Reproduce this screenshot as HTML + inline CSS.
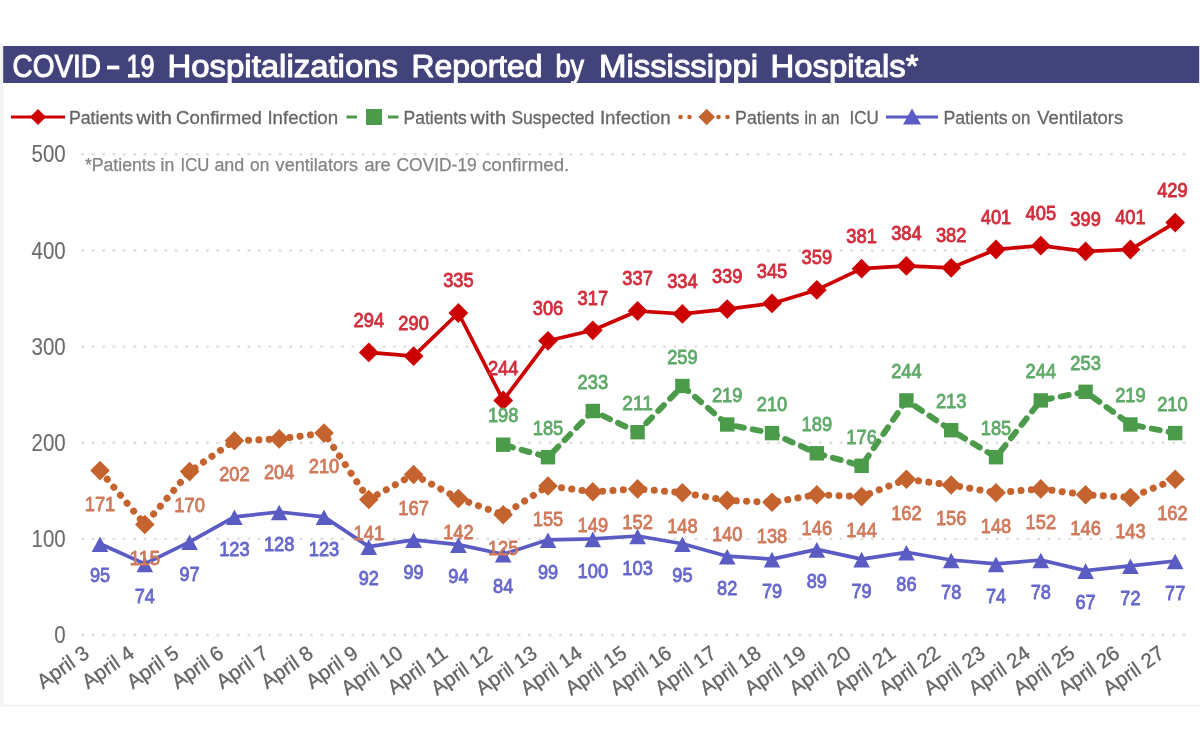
<!DOCTYPE html>
<html><head><meta charset="utf-8"><title>COVID-19 Hospitalizations</title>
<style>
html,body{margin:0;padding:0;background:#fff;}
body{width:1200px;height:750px;overflow:hidden;font-family:"Liberation Sans",sans-serif;}
svg{display:block;filter:blur(0.55px);}
text{font-family:"Liberation Sans",sans-serif;}
.dl{font-size:20.3px;text-anchor:middle;stroke-width:0.85px;stroke-linejoin:round;}
.ax{font-size:20.5px;fill:#6c6c6c;stroke:#6c6c6c;stroke-width:0.1px;}
</style></head><body>
<svg width="1200" height="750" viewBox="0 0 1200 750">

<rect x="0" y="44" width="1200" height="662.5" fill="#f3f3f3"/>
<rect x="3.2" y="44" width="1197" height="660.7" fill="#ffffff"/>
<rect x="3.2" y="46" width="1196" height="37" fill="#42437b"/>
<text x="12.5" y="77" font-size="32" fill="#ffffff" stroke="#ffffff" stroke-width="1.05" stroke-linejoin="round" textLength="88.5" lengthAdjust="spacingAndGlyphs">COVID</text>
<text x="126.5" y="77" font-size="32" fill="#ffffff" stroke="#ffffff" stroke-width="1.05" stroke-linejoin="round" textLength="28" lengthAdjust="spacingAndGlyphs">19</text>
<text x="167.5" y="77" font-size="32" fill="#ffffff" stroke="#ffffff" stroke-width="1.05" stroke-linejoin="round" textLength="230.5" lengthAdjust="spacingAndGlyphs">Hospitalizations</text>
<text x="411.5" y="77" font-size="32" fill="#ffffff" stroke="#ffffff" stroke-width="1.05" stroke-linejoin="round" textLength="131" lengthAdjust="spacingAndGlyphs">Reported</text>
<text x="555.5" y="77" font-size="32" fill="#ffffff" stroke="#ffffff" stroke-width="1.05" stroke-linejoin="round" textLength="28.5" lengthAdjust="spacingAndGlyphs">by</text>
<text x="599" y="77" font-size="32" fill="#ffffff" stroke="#ffffff" stroke-width="1.05" stroke-linejoin="round" textLength="159" lengthAdjust="spacingAndGlyphs">Mississippi</text>
<text x="770.5" y="77" font-size="32" fill="#ffffff" stroke="#ffffff" stroke-width="1.05" stroke-linejoin="round" textLength="148" lengthAdjust="spacingAndGlyphs">Hospitals*</text>
<rect x="107" y="65.6" width="12.3" height="3.8" fill="#ffffff"/>
<g>
<line x1="11" y1="117" x2="65" y2="117" stroke="#cc0000" stroke-width="3"/>
<path d="M38 109 l8 8 l-8 8 l-8 -8z" fill="#cc0000"/>
<text x="68.9" y="123.6" font-size="18.3" fill="#666666" stroke="#666666" stroke-width="0.3" textLength="64.2" lengthAdjust="spacingAndGlyphs">Patients</text>
<text x="136.4" y="123.6" font-size="18.3" fill="#666666" stroke="#666666" stroke-width="0.3" textLength="35.4" lengthAdjust="spacingAndGlyphs">with</text>
<text x="176.1" y="123.6" font-size="18.3" fill="#666666" stroke="#666666" stroke-width="0.3" textLength="85.7" lengthAdjust="spacingAndGlyphs">Confirmed</text>
<text x="267.4" y="123.6" font-size="18.3" fill="#666666" stroke="#666666" stroke-width="0.3" textLength="70.7" lengthAdjust="spacingAndGlyphs">Infection</text>
<line x1="346.5" y1="117" x2="357" y2="117" stroke="#4b9b4b" stroke-width="3"/>
<line x1="388" y1="117" x2="398.5" y2="117" stroke="#4b9b4b" stroke-width="3"/>
<rect x="366" y="109" width="16" height="16" fill="#4b9b4b"/>
<text x="403.6" y="123.6" font-size="18.3" fill="#666666" stroke="#666666" stroke-width="0.3" textLength="63.2" lengthAdjust="spacingAndGlyphs">Patients</text>
<text x="470.6" y="123.6" font-size="18.3" fill="#666666" stroke="#666666" stroke-width="0.3" textLength="35.5" lengthAdjust="spacingAndGlyphs">with</text>
<text x="511.4" y="123.6" font-size="18.3" fill="#666666" stroke="#666666" stroke-width="0.3" textLength="82.9" lengthAdjust="spacingAndGlyphs">Suspected</text>
<text x="599.9" y="123.6" font-size="18.3" fill="#666666" stroke="#666666" stroke-width="0.3" textLength="70.7" lengthAdjust="spacingAndGlyphs">Infection</text>
<circle cx="680.5" cy="117" r="2.3" fill="#c5632f"/>
<circle cx="689.5" cy="117" r="2.3" fill="#c5632f"/>
<circle cx="718.5" cy="117" r="2.3" fill="#c5632f"/>
<circle cx="727.5" cy="117" r="2.3" fill="#c5632f"/>
<path d="M706.7 108.7 l8.3 8.3 l-8.3 8.3 l-8.3 -8.3z" fill="#c5632f"/>
<text x="735.1" y="123.6" font-size="18.3" fill="#666666" stroke="#666666" stroke-width="0.3" textLength="64.2" lengthAdjust="spacingAndGlyphs">Patients</text>
<text x="804.4" y="123.6" font-size="18.3" fill="#666666" stroke="#666666" stroke-width="0.3" textLength="12.4" lengthAdjust="spacingAndGlyphs">in</text>
<text x="821.6" y="123.6" font-size="18.3" fill="#666666" stroke="#666666" stroke-width="0.3" textLength="18" lengthAdjust="spacingAndGlyphs">an</text>
<text x="849.6" y="123.6" font-size="18.3" fill="#666666" stroke="#666666" stroke-width="0.3" textLength="29.2" lengthAdjust="spacingAndGlyphs">ICU</text>
<line x1="886" y1="117" x2="938" y2="117" stroke="#5a5cc4" stroke-width="3"/>
<path d="M912 108.5 l9 16 h-18z" fill="#5a5cc4"/>
<text x="943.4" y="123.6" font-size="18.3" fill="#666666" stroke="#666666" stroke-width="0.3" textLength="64.2" lengthAdjust="spacingAndGlyphs">Patients</text>
<text x="1011.6" y="123.6" font-size="18.3" fill="#666666" stroke="#666666" stroke-width="0.3" textLength="18.7" lengthAdjust="spacingAndGlyphs">on</text>
<text x="1037.2" y="123.6" font-size="18.3" fill="#666666" stroke="#666666" stroke-width="0.3" textLength="85.9" lengthAdjust="spacingAndGlyphs">Ventilators</text>
</g>
<line x1="81.3" y1="635" x2="1192.5" y2="635" stroke="#dfdfdf" stroke-width="2.4" stroke-dasharray="2.8 7.59"/>
<text class="ax" style="font-size:23.4px" x="65.7" y="643" text-anchor="end" textLength="11.4" lengthAdjust="spacingAndGlyphs">0</text>
<line x1="81.3" y1="538.9" x2="1192.5" y2="538.9" stroke="#dfdfdf" stroke-width="2.4" stroke-dasharray="2.8 7.59"/>
<text class="ax" style="font-size:23.4px" x="65.7" y="546.9" text-anchor="end" textLength="34.2" lengthAdjust="spacingAndGlyphs">100</text>
<line x1="81.3" y1="442.7" x2="1192.5" y2="442.7" stroke="#dfdfdf" stroke-width="2.4" stroke-dasharray="2.8 7.59"/>
<text class="ax" style="font-size:23.4px" x="65.7" y="450.7" text-anchor="end" textLength="34.2" lengthAdjust="spacingAndGlyphs">200</text>
<line x1="81.3" y1="346.6" x2="1192.5" y2="346.6" stroke="#dfdfdf" stroke-width="2.4" stroke-dasharray="2.8 7.59"/>
<text class="ax" style="font-size:23.4px" x="65.7" y="354.6" text-anchor="end" textLength="34.2" lengthAdjust="spacingAndGlyphs">300</text>
<line x1="81.3" y1="250.5" x2="1192.5" y2="250.5" stroke="#dfdfdf" stroke-width="2.4" stroke-dasharray="2.8 7.59"/>
<text class="ax" style="font-size:23.4px" x="65.7" y="258.5" text-anchor="end" textLength="34.2" lengthAdjust="spacingAndGlyphs">400</text>
<line x1="81.3" y1="154.3" x2="1192.5" y2="154.3" stroke="#dfdfdf" stroke-width="2.4" stroke-dasharray="2.8 7.59"/>
<text class="ax" style="font-size:23.4px" x="65.7" y="162.3" text-anchor="end" textLength="34.2" lengthAdjust="spacingAndGlyphs">500</text>
<text x="84.9" y="170.5" font-size="18" fill="#848484" stroke="#848484" stroke-width="0.25" textLength="70.7" lengthAdjust="spacingAndGlyphs">*Patients</text>
<text x="160.6" y="170.5" font-size="18" fill="#848484" stroke="#848484" stroke-width="0.25" textLength="13.7" lengthAdjust="spacingAndGlyphs">in</text>
<text x="180.6" y="170.5" font-size="18" fill="#848484" stroke="#848484" stroke-width="0.25" textLength="28.7" lengthAdjust="spacingAndGlyphs">ICU</text>
<text x="214.4" y="170.5" font-size="18" fill="#848484" stroke="#848484" stroke-width="0.25" textLength="29.9" lengthAdjust="spacingAndGlyphs">and</text>
<text x="250.1" y="170.5" font-size="18" fill="#848484" stroke="#848484" stroke-width="0.25" textLength="19.2" lengthAdjust="spacingAndGlyphs">on</text>
<text x="275.6" y="170.5" font-size="18" fill="#848484" stroke="#848484" stroke-width="0.25" textLength="82.5" lengthAdjust="spacingAndGlyphs">ventilators</text>
<text x="364.4" y="170.5" font-size="18" fill="#848484" stroke="#848484" stroke-width="0.25" textLength="26.2" lengthAdjust="spacingAndGlyphs">are</text>
<text x="396.4" y="170.5" font-size="18" fill="#848484" stroke="#848484" stroke-width="0.25" textLength="80.4" lengthAdjust="spacingAndGlyphs">COVID-19</text>
<text x="481.9" y="170.5" font-size="18" fill="#848484" stroke="#848484" stroke-width="0.25" textLength="87.4" lengthAdjust="spacingAndGlyphs">confirmed.</text>
<text class="ax" text-anchor="end" style="fill:#646464;stroke:#646464;stroke-width:0.3px" transform="translate(90.7,656.2) rotate(-35)">April 3</text>
<text class="ax" text-anchor="end" style="fill:#646464;stroke:#646464;stroke-width:0.3px" transform="translate(135.5,656.2) rotate(-35)">April 4</text>
<text class="ax" text-anchor="end" style="fill:#646464;stroke:#646464;stroke-width:0.3px" transform="translate(180.3,656.2) rotate(-35)">April 5</text>
<text class="ax" text-anchor="end" style="fill:#646464;stroke:#646464;stroke-width:0.3px" transform="translate(225.1,656.2) rotate(-35)">April 6</text>
<text class="ax" text-anchor="end" style="fill:#646464;stroke:#646464;stroke-width:0.3px" transform="translate(269.9,656.2) rotate(-35)">April 7</text>
<text class="ax" text-anchor="end" style="fill:#646464;stroke:#646464;stroke-width:0.3px" transform="translate(314.7,656.2) rotate(-35)">April 8</text>
<text class="ax" text-anchor="end" style="fill:#646464;stroke:#646464;stroke-width:0.3px" transform="translate(359.5,656.2) rotate(-35)">April 9</text>
<text class="ax" text-anchor="end" style="fill:#646464;stroke:#646464;stroke-width:0.3px" transform="translate(404.3,656.2) rotate(-35)">April 10</text>
<text class="ax" text-anchor="end" style="fill:#646464;stroke:#646464;stroke-width:0.3px" transform="translate(449.1,656.2) rotate(-35)">April 11</text>
<text class="ax" text-anchor="end" style="fill:#646464;stroke:#646464;stroke-width:0.3px" transform="translate(493.9,656.2) rotate(-35)">April 12</text>
<text class="ax" text-anchor="end" style="fill:#646464;stroke:#646464;stroke-width:0.3px" transform="translate(538.7,656.2) rotate(-35)">April 13</text>
<text class="ax" text-anchor="end" style="fill:#646464;stroke:#646464;stroke-width:0.3px" transform="translate(583.5,656.2) rotate(-35)">April 14</text>
<text class="ax" text-anchor="end" style="fill:#646464;stroke:#646464;stroke-width:0.3px" transform="translate(628.3,656.2) rotate(-35)">April 15</text>
<text class="ax" text-anchor="end" style="fill:#646464;stroke:#646464;stroke-width:0.3px" transform="translate(673.1,656.2) rotate(-35)">April 16</text>
<text class="ax" text-anchor="end" style="fill:#646464;stroke:#646464;stroke-width:0.3px" transform="translate(717.9,656.2) rotate(-35)">April 17</text>
<text class="ax" text-anchor="end" style="fill:#646464;stroke:#646464;stroke-width:0.3px" transform="translate(762.7,656.2) rotate(-35)">April 18</text>
<text class="ax" text-anchor="end" style="fill:#646464;stroke:#646464;stroke-width:0.3px" transform="translate(807.5,656.2) rotate(-35)">April 19</text>
<text class="ax" text-anchor="end" style="fill:#646464;stroke:#646464;stroke-width:0.3px" transform="translate(852.3,656.2) rotate(-35)">April 20</text>
<text class="ax" text-anchor="end" style="fill:#646464;stroke:#646464;stroke-width:0.3px" transform="translate(897.1,656.2) rotate(-35)">April 21</text>
<text class="ax" text-anchor="end" style="fill:#646464;stroke:#646464;stroke-width:0.3px" transform="translate(941.9,656.2) rotate(-35)">April 22</text>
<text class="ax" text-anchor="end" style="fill:#646464;stroke:#646464;stroke-width:0.3px" transform="translate(986.7,656.2) rotate(-35)">April 23</text>
<text class="ax" text-anchor="end" style="fill:#646464;stroke:#646464;stroke-width:0.3px" transform="translate(1031.5,656.2) rotate(-35)">April 24</text>
<text class="ax" text-anchor="end" style="fill:#646464;stroke:#646464;stroke-width:0.3px" transform="translate(1076.3,656.2) rotate(-35)">April 25</text>
<text class="ax" text-anchor="end" style="fill:#646464;stroke:#646464;stroke-width:0.3px" transform="translate(1121.1,656.2) rotate(-35)">April 26</text>
<text class="ax" text-anchor="end" style="fill:#646464;stroke:#646464;stroke-width:0.3px" transform="translate(1165.9,656.2) rotate(-35)">April 27</text>
<polyline points="100,470.6 144.8,524.5 189.6,471.6 234.4,440.8 279.2,438.9 324,433.1 368.8,499.5 413.6,474.5 458.4,498.5 503.2,514.8 548,486 592.8,491.8 637.6,488.9 682.4,492.7 727.2,500.4 772,502.3 816.8,494.7 861.6,496.6 906.4,479.3 951.2,485 996,492.7 1040.8,488.9 1085.6,494.7 1130.4,497.5 1175.2,479.3" fill="none" stroke="#c5632f" stroke-width="7" stroke-linecap="round" stroke-linejoin="round" stroke-dasharray="0.1 10.25" stroke-dashoffset="-0.9"/>
<path d="M100 460.8 l9.8 9.8 l-9.8 9.8 l-9.8 -9.8z" fill="#c5632f"/>
<path d="M144.8 514.7 l9.8 9.8 l-9.8 9.8 l-9.8 -9.8z" fill="#c5632f"/>
<path d="M189.6 461.8 l9.8 9.8 l-9.8 9.8 l-9.8 -9.8z" fill="#c5632f"/>
<path d="M234.4 431 l9.8 9.8 l-9.8 9.8 l-9.8 -9.8z" fill="#c5632f"/>
<path d="M279.2 429.1 l9.8 9.8 l-9.8 9.8 l-9.8 -9.8z" fill="#c5632f"/>
<path d="M324 423.3 l9.8 9.8 l-9.8 9.8 l-9.8 -9.8z" fill="#c5632f"/>
<path d="M368.8 489.7 l9.8 9.8 l-9.8 9.8 l-9.8 -9.8z" fill="#c5632f"/>
<path d="M413.6 464.7 l9.8 9.8 l-9.8 9.8 l-9.8 -9.8z" fill="#c5632f"/>
<path d="M458.4 488.7 l9.8 9.8 l-9.8 9.8 l-9.8 -9.8z" fill="#c5632f"/>
<path d="M503.2 505 l9.8 9.8 l-9.8 9.8 l-9.8 -9.8z" fill="#c5632f"/>
<path d="M548 476.2 l9.8 9.8 l-9.8 9.8 l-9.8 -9.8z" fill="#c5632f"/>
<path d="M592.8 482 l9.8 9.8 l-9.8 9.8 l-9.8 -9.8z" fill="#c5632f"/>
<path d="M637.6 479.1 l9.8 9.8 l-9.8 9.8 l-9.8 -9.8z" fill="#c5632f"/>
<path d="M682.4 482.9 l9.8 9.8 l-9.8 9.8 l-9.8 -9.8z" fill="#c5632f"/>
<path d="M727.2 490.6 l9.8 9.8 l-9.8 9.8 l-9.8 -9.8z" fill="#c5632f"/>
<path d="M772 492.5 l9.8 9.8 l-9.8 9.8 l-9.8 -9.8z" fill="#c5632f"/>
<path d="M816.8 484.9 l9.8 9.8 l-9.8 9.8 l-9.8 -9.8z" fill="#c5632f"/>
<path d="M861.6 486.8 l9.8 9.8 l-9.8 9.8 l-9.8 -9.8z" fill="#c5632f"/>
<path d="M906.4 469.5 l9.8 9.8 l-9.8 9.8 l-9.8 -9.8z" fill="#c5632f"/>
<path d="M951.2 475.2 l9.8 9.8 l-9.8 9.8 l-9.8 -9.8z" fill="#c5632f"/>
<path d="M996 482.9 l9.8 9.8 l-9.8 9.8 l-9.8 -9.8z" fill="#c5632f"/>
<path d="M1040.8 479.1 l9.8 9.8 l-9.8 9.8 l-9.8 -9.8z" fill="#c5632f"/>
<path d="M1085.6 484.9 l9.8 9.8 l-9.8 9.8 l-9.8 -9.8z" fill="#c5632f"/>
<path d="M1130.4 487.7 l9.8 9.8 l-9.8 9.8 l-9.8 -9.8z" fill="#c5632f"/>
<path d="M1175.2 469.5 l9.8 9.8 l-9.8 9.8 l-9.8 -9.8z" fill="#c5632f"/>
<polyline points="100,543.7 144.8,563.9 189.6,541.8 234.4,516.8 279.2,512 324,516.8 368.8,546.6 413.6,539.8 458.4,544.6 503.2,554.3 548,539.8 592.8,538.9 637.6,536 682.4,543.7 727.2,556.2 772,559.1 816.8,549.4 861.6,559.1 906.4,552.3 951.2,560 996,563.9 1040.8,560 1085.6,570.6 1130.4,565.8 1175.2,561" fill="none" stroke="#5a5cc4" stroke-width="3.7" stroke-linejoin="round"/>
<path d="M100 536.4 l8.3 15.6 h-16.6z" fill="#5a5cc4"/>
<path d="M144.8 556.6 l8.3 15.6 h-16.6z" fill="#5a5cc4"/>
<path d="M189.6 534.5 l8.3 15.6 h-16.6z" fill="#5a5cc4"/>
<path d="M234.4 509.5 l8.3 15.6 h-16.6z" fill="#5a5cc4"/>
<path d="M279.2 504.7 l8.3 15.6 h-16.6z" fill="#5a5cc4"/>
<path d="M324 509.5 l8.3 15.6 h-16.6z" fill="#5a5cc4"/>
<path d="M368.8 539.3 l8.3 15.6 h-16.6z" fill="#5a5cc4"/>
<path d="M413.6 532.5 l8.3 15.6 h-16.6z" fill="#5a5cc4"/>
<path d="M458.4 537.3 l8.3 15.6 h-16.6z" fill="#5a5cc4"/>
<path d="M503.2 547 l8.3 15.6 h-16.6z" fill="#5a5cc4"/>
<path d="M548 532.5 l8.3 15.6 h-16.6z" fill="#5a5cc4"/>
<path d="M592.8 531.6 l8.3 15.6 h-16.6z" fill="#5a5cc4"/>
<path d="M637.6 528.7 l8.3 15.6 h-16.6z" fill="#5a5cc4"/>
<path d="M682.4 536.4 l8.3 15.6 h-16.6z" fill="#5a5cc4"/>
<path d="M727.2 548.9 l8.3 15.6 h-16.6z" fill="#5a5cc4"/>
<path d="M772 551.8 l8.3 15.6 h-16.6z" fill="#5a5cc4"/>
<path d="M816.8 542.1 l8.3 15.6 h-16.6z" fill="#5a5cc4"/>
<path d="M861.6 551.8 l8.3 15.6 h-16.6z" fill="#5a5cc4"/>
<path d="M906.4 545 l8.3 15.6 h-16.6z" fill="#5a5cc4"/>
<path d="M951.2 552.7 l8.3 15.6 h-16.6z" fill="#5a5cc4"/>
<path d="M996 556.6 l8.3 15.6 h-16.6z" fill="#5a5cc4"/>
<path d="M1040.8 552.7 l8.3 15.6 h-16.6z" fill="#5a5cc4"/>
<path d="M1085.6 563.3 l8.3 15.6 h-16.6z" fill="#5a5cc4"/>
<path d="M1130.4 558.5 l8.3 15.6 h-16.6z" fill="#5a5cc4"/>
<path d="M1175.2 553.7 l8.3 15.6 h-16.6z" fill="#5a5cc4"/>
<polyline points="503.2,444.7 548,457.2 592.8,411 637.6,432.2 682.4,386 727.2,424.5 772,433.1 816.8,453.3 861.6,465.8 906.4,400.4 951.2,430.2 996,457.2 1040.8,400.4 1085.6,391.8 1130.4,424.5 1175.2,433.1" fill="none" stroke="#4b9b4b" stroke-width="6" stroke-linecap="round" stroke-linejoin="round" stroke-dasharray="8.1 9" stroke-dashoffset="-2"/>
<rect x="496" y="437.5" width="14.4" height="14.4" fill="#4b9b4b"/>
<rect x="540.8" y="450" width="14.4" height="14.4" fill="#4b9b4b"/>
<rect x="585.6" y="403.8" width="14.4" height="14.4" fill="#4b9b4b"/>
<rect x="630.4" y="425" width="14.4" height="14.4" fill="#4b9b4b"/>
<rect x="675.2" y="378.8" width="14.4" height="14.4" fill="#4b9b4b"/>
<rect x="720" y="417.3" width="14.4" height="14.4" fill="#4b9b4b"/>
<rect x="764.8" y="425.9" width="14.4" height="14.4" fill="#4b9b4b"/>
<rect x="809.6" y="446.1" width="14.4" height="14.4" fill="#4b9b4b"/>
<rect x="854.4" y="458.6" width="14.4" height="14.4" fill="#4b9b4b"/>
<rect x="899.2" y="393.2" width="14.4" height="14.4" fill="#4b9b4b"/>
<rect x="944" y="423" width="14.4" height="14.4" fill="#4b9b4b"/>
<rect x="988.8" y="450" width="14.4" height="14.4" fill="#4b9b4b"/>
<rect x="1033.6" y="393.2" width="14.4" height="14.4" fill="#4b9b4b"/>
<rect x="1078.4" y="384.6" width="14.4" height="14.4" fill="#4b9b4b"/>
<rect x="1123.2" y="417.3" width="14.4" height="14.4" fill="#4b9b4b"/>
<rect x="1168" y="425.9" width="14.4" height="14.4" fill="#4b9b4b"/>
<polyline points="368.8,352.4 413.6,356.2 458.4,313 503.2,400.4 548,340.8 592.8,330.3 637.6,311 682.4,313.9 727.2,309.1 772,303.4 816.8,289.9 861.6,268.7 906.4,265.9 951.2,267.8 996,249.5 1040.8,245.7 1085.6,251.4 1130.4,249.5 1175.2,222.6" fill="none" stroke="#cc0000" stroke-width="3.7" stroke-linejoin="round"/>
<path d="M368.8 342.5 l9.9 9.9 l-9.9 9.9 l-9.9 -9.9z" fill="#cc0000"/>
<path d="M413.6 346.3 l9.9 9.9 l-9.9 9.9 l-9.9 -9.9z" fill="#cc0000"/>
<path d="M458.4 303.1 l9.9 9.9 l-9.9 9.9 l-9.9 -9.9z" fill="#cc0000"/>
<path d="M503.2 390.5 l9.9 9.9 l-9.9 9.9 l-9.9 -9.9z" fill="#cc0000"/>
<path d="M548 330.9 l9.9 9.9 l-9.9 9.9 l-9.9 -9.9z" fill="#cc0000"/>
<path d="M592.8 320.4 l9.9 9.9 l-9.9 9.9 l-9.9 -9.9z" fill="#cc0000"/>
<path d="M637.6 301.1 l9.9 9.9 l-9.9 9.9 l-9.9 -9.9z" fill="#cc0000"/>
<path d="M682.4 304 l9.9 9.9 l-9.9 9.9 l-9.9 -9.9z" fill="#cc0000"/>
<path d="M727.2 299.2 l9.9 9.9 l-9.9 9.9 l-9.9 -9.9z" fill="#cc0000"/>
<path d="M772 293.5 l9.9 9.9 l-9.9 9.9 l-9.9 -9.9z" fill="#cc0000"/>
<path d="M816.8 280 l9.9 9.9 l-9.9 9.9 l-9.9 -9.9z" fill="#cc0000"/>
<path d="M861.6 258.8 l9.9 9.9 l-9.9 9.9 l-9.9 -9.9z" fill="#cc0000"/>
<path d="M906.4 256 l9.9 9.9 l-9.9 9.9 l-9.9 -9.9z" fill="#cc0000"/>
<path d="M951.2 257.9 l9.9 9.9 l-9.9 9.9 l-9.9 -9.9z" fill="#cc0000"/>
<path d="M996 239.6 l9.9 9.9 l-9.9 9.9 l-9.9 -9.9z" fill="#cc0000"/>
<path d="M1040.8 235.8 l9.9 9.9 l-9.9 9.9 l-9.9 -9.9z" fill="#cc0000"/>
<path d="M1085.6 241.5 l9.9 9.9 l-9.9 9.9 l-9.9 -9.9z" fill="#cc0000"/>
<path d="M1130.4 239.6 l9.9 9.9 l-9.9 9.9 l-9.9 -9.9z" fill="#cc0000"/>
<path d="M1175.2 212.7 l9.9 9.9 l-9.9 9.9 l-9.9 -9.9z" fill="#cc0000"/>
<text class="dl" x="100" y="510.8" fill="#cf7a5c" stroke="#cf7a5c" textLength="30.5" lengthAdjust="spacingAndGlyphs">171</text>
<text class="dl" x="144.8" y="564.7" fill="#cf7a5c" stroke="#cf7a5c" textLength="30.5" lengthAdjust="spacingAndGlyphs">115</text>
<text class="dl" x="189.6" y="511.8" fill="#cf7a5c" stroke="#cf7a5c" textLength="30.5" lengthAdjust="spacingAndGlyphs">170</text>
<text class="dl" x="234.4" y="481" fill="#cf7a5c" stroke="#cf7a5c" textLength="30.5" lengthAdjust="spacingAndGlyphs">202</text>
<text class="dl" x="279.2" y="479.1" fill="#cf7a5c" stroke="#cf7a5c" textLength="30.5" lengthAdjust="spacingAndGlyphs">204</text>
<text class="dl" x="324" y="473.3" fill="#cf7a5c" stroke="#cf7a5c" textLength="30.5" lengthAdjust="spacingAndGlyphs">210</text>
<text class="dl" x="368.8" y="539.7" fill="#cf7a5c" stroke="#cf7a5c" textLength="30.5" lengthAdjust="spacingAndGlyphs">141</text>
<text class="dl" x="413.6" y="514.7" fill="#cf7a5c" stroke="#cf7a5c" textLength="30.5" lengthAdjust="spacingAndGlyphs">167</text>
<text class="dl" x="458.4" y="538.7" fill="#cf7a5c" stroke="#cf7a5c" textLength="30.5" lengthAdjust="spacingAndGlyphs">142</text>
<text class="dl" x="503.2" y="555" fill="#cf7a5c" stroke="#cf7a5c" textLength="30.5" lengthAdjust="spacingAndGlyphs">125</text>
<text class="dl" x="548" y="526.2" fill="#cf7a5c" stroke="#cf7a5c" textLength="30.5" lengthAdjust="spacingAndGlyphs">155</text>
<text class="dl" x="592.8" y="532" fill="#cf7a5c" stroke="#cf7a5c" textLength="30.5" lengthAdjust="spacingAndGlyphs">149</text>
<text class="dl" x="637.6" y="529.1" fill="#cf7a5c" stroke="#cf7a5c" textLength="30.5" lengthAdjust="spacingAndGlyphs">152</text>
<text class="dl" x="682.4" y="532.9" fill="#cf7a5c" stroke="#cf7a5c" textLength="30.5" lengthAdjust="spacingAndGlyphs">148</text>
<text class="dl" x="727.2" y="540.6" fill="#cf7a5c" stroke="#cf7a5c" textLength="30.5" lengthAdjust="spacingAndGlyphs">140</text>
<text class="dl" x="772" y="542.5" fill="#cf7a5c" stroke="#cf7a5c" textLength="30.5" lengthAdjust="spacingAndGlyphs">138</text>
<text class="dl" x="816.8" y="534.9" fill="#cf7a5c" stroke="#cf7a5c" textLength="30.5" lengthAdjust="spacingAndGlyphs">146</text>
<text class="dl" x="861.6" y="536.8" fill="#cf7a5c" stroke="#cf7a5c" textLength="30.5" lengthAdjust="spacingAndGlyphs">144</text>
<text class="dl" x="906.4" y="519.5" fill="#cf7a5c" stroke="#cf7a5c" textLength="30.5" lengthAdjust="spacingAndGlyphs">162</text>
<text class="dl" x="951.2" y="525.2" fill="#cf7a5c" stroke="#cf7a5c" textLength="30.5" lengthAdjust="spacingAndGlyphs">156</text>
<text class="dl" x="996" y="532.9" fill="#cf7a5c" stroke="#cf7a5c" textLength="30.5" lengthAdjust="spacingAndGlyphs">148</text>
<text class="dl" x="1040.8" y="529.1" fill="#cf7a5c" stroke="#cf7a5c" textLength="30.5" lengthAdjust="spacingAndGlyphs">152</text>
<text class="dl" x="1085.6" y="534.9" fill="#cf7a5c" stroke="#cf7a5c" textLength="30.5" lengthAdjust="spacingAndGlyphs">146</text>
<text class="dl" x="1130.4" y="537.7" fill="#cf7a5c" stroke="#cf7a5c" textLength="30.5" lengthAdjust="spacingAndGlyphs">143</text>
<text class="dl" x="1172.4" y="519.5" fill="#cf7a5c" stroke="#cf7a5c" textLength="30.5" lengthAdjust="spacingAndGlyphs">162</text>
<text class="dl" x="100" y="582.4" fill="#6668cc" stroke="#6668cc" textLength="20.2" lengthAdjust="spacingAndGlyphs">95</text>
<text class="dl" x="144.8" y="602.6" fill="#6668cc" stroke="#6668cc" textLength="20.2" lengthAdjust="spacingAndGlyphs">74</text>
<text class="dl" x="189.6" y="580.5" fill="#6668cc" stroke="#6668cc" textLength="20.2" lengthAdjust="spacingAndGlyphs">97</text>
<text class="dl" x="234.4" y="555.5" fill="#6668cc" stroke="#6668cc" textLength="30.5" lengthAdjust="spacingAndGlyphs">123</text>
<text class="dl" x="279.2" y="550.7" fill="#6668cc" stroke="#6668cc" textLength="30.5" lengthAdjust="spacingAndGlyphs">128</text>
<text class="dl" x="324" y="555.5" fill="#6668cc" stroke="#6668cc" textLength="30.5" lengthAdjust="spacingAndGlyphs">123</text>
<text class="dl" x="368.8" y="585.3" fill="#6668cc" stroke="#6668cc" textLength="20.2" lengthAdjust="spacingAndGlyphs">92</text>
<text class="dl" x="413.6" y="578.5" fill="#6668cc" stroke="#6668cc" textLength="20.2" lengthAdjust="spacingAndGlyphs">99</text>
<text class="dl" x="458.4" y="583.3" fill="#6668cc" stroke="#6668cc" textLength="20.2" lengthAdjust="spacingAndGlyphs">94</text>
<text class="dl" x="503.2" y="593" fill="#6668cc" stroke="#6668cc" textLength="20.2" lengthAdjust="spacingAndGlyphs">84</text>
<text class="dl" x="548" y="578.5" fill="#6668cc" stroke="#6668cc" textLength="20.2" lengthAdjust="spacingAndGlyphs">99</text>
<text class="dl" x="592.8" y="577.6" fill="#6668cc" stroke="#6668cc" textLength="30.5" lengthAdjust="spacingAndGlyphs">100</text>
<text class="dl" x="637.6" y="574.7" fill="#6668cc" stroke="#6668cc" textLength="30.5" lengthAdjust="spacingAndGlyphs">103</text>
<text class="dl" x="682.4" y="582.4" fill="#6668cc" stroke="#6668cc" textLength="20.2" lengthAdjust="spacingAndGlyphs">95</text>
<text class="dl" x="727.2" y="594.9" fill="#6668cc" stroke="#6668cc" textLength="20.2" lengthAdjust="spacingAndGlyphs">82</text>
<text class="dl" x="772" y="597.8" fill="#6668cc" stroke="#6668cc" textLength="20.2" lengthAdjust="spacingAndGlyphs">79</text>
<text class="dl" x="816.8" y="588.1" fill="#6668cc" stroke="#6668cc" textLength="20.2" lengthAdjust="spacingAndGlyphs">89</text>
<text class="dl" x="861.6" y="597.8" fill="#6668cc" stroke="#6668cc" textLength="20.2" lengthAdjust="spacingAndGlyphs">79</text>
<text class="dl" x="906.4" y="591" fill="#6668cc" stroke="#6668cc" textLength="20.2" lengthAdjust="spacingAndGlyphs">86</text>
<text class="dl" x="951.2" y="598.7" fill="#6668cc" stroke="#6668cc" textLength="20.2" lengthAdjust="spacingAndGlyphs">78</text>
<text class="dl" x="996" y="602.6" fill="#6668cc" stroke="#6668cc" textLength="20.2" lengthAdjust="spacingAndGlyphs">74</text>
<text class="dl" x="1040.8" y="598.7" fill="#6668cc" stroke="#6668cc" textLength="20.2" lengthAdjust="spacingAndGlyphs">78</text>
<text class="dl" x="1085.6" y="609.3" fill="#6668cc" stroke="#6668cc" textLength="20.2" lengthAdjust="spacingAndGlyphs">67</text>
<text class="dl" x="1130.4" y="604.5" fill="#6668cc" stroke="#6668cc" textLength="20.2" lengthAdjust="spacingAndGlyphs">72</text>
<text class="dl" x="1175.2" y="599.7" fill="#6668cc" stroke="#6668cc" textLength="20.2" lengthAdjust="spacingAndGlyphs">77</text>
<text class="dl" x="503.2" y="422.4" fill="#60aa69" stroke="#60aa69" textLength="30.5" lengthAdjust="spacingAndGlyphs">198</text>
<text class="dl" x="548" y="434.9" fill="#60aa69" stroke="#60aa69" textLength="30.5" lengthAdjust="spacingAndGlyphs">185</text>
<text class="dl" x="592.8" y="388.7" fill="#60aa69" stroke="#60aa69" textLength="30.5" lengthAdjust="spacingAndGlyphs">233</text>
<text class="dl" x="637.6" y="409.9" fill="#60aa69" stroke="#60aa69" textLength="30.5" lengthAdjust="spacingAndGlyphs">211</text>
<text class="dl" x="682.4" y="363.7" fill="#60aa69" stroke="#60aa69" textLength="30.5" lengthAdjust="spacingAndGlyphs">259</text>
<text class="dl" x="727.2" y="402.2" fill="#60aa69" stroke="#60aa69" textLength="30.5" lengthAdjust="spacingAndGlyphs">219</text>
<text class="dl" x="772" y="410.8" fill="#60aa69" stroke="#60aa69" textLength="30.5" lengthAdjust="spacingAndGlyphs">210</text>
<text class="dl" x="816.8" y="431" fill="#60aa69" stroke="#60aa69" textLength="30.5" lengthAdjust="spacingAndGlyphs">189</text>
<text class="dl" x="861.6" y="443.5" fill="#60aa69" stroke="#60aa69" textLength="30.5" lengthAdjust="spacingAndGlyphs">176</text>
<text class="dl" x="906.4" y="378.1" fill="#60aa69" stroke="#60aa69" textLength="30.5" lengthAdjust="spacingAndGlyphs">244</text>
<text class="dl" x="951.2" y="407.9" fill="#60aa69" stroke="#60aa69" textLength="30.5" lengthAdjust="spacingAndGlyphs">213</text>
<text class="dl" x="996" y="434.9" fill="#60aa69" stroke="#60aa69" textLength="30.5" lengthAdjust="spacingAndGlyphs">185</text>
<text class="dl" x="1040.8" y="378.1" fill="#60aa69" stroke="#60aa69" textLength="30.5" lengthAdjust="spacingAndGlyphs">244</text>
<text class="dl" x="1085.6" y="369.5" fill="#60aa69" stroke="#60aa69" textLength="30.5" lengthAdjust="spacingAndGlyphs">253</text>
<text class="dl" x="1130.4" y="402.2" fill="#60aa69" stroke="#60aa69" textLength="30.5" lengthAdjust="spacingAndGlyphs">219</text>
<text class="dl" x="1172.4" y="410.8" fill="#60aa69" stroke="#60aa69" textLength="30.5" lengthAdjust="spacingAndGlyphs">210</text>
<text class="dl" x="368.8" y="326.6" fill="#d22d3c" stroke="#d22d3c" textLength="30.5" lengthAdjust="spacingAndGlyphs">294</text>
<text class="dl" x="413.6" y="330.4" fill="#d22d3c" stroke="#d22d3c" textLength="30.5" lengthAdjust="spacingAndGlyphs">290</text>
<text class="dl" x="458.4" y="287.2" fill="#d22d3c" stroke="#d22d3c" textLength="30.5" lengthAdjust="spacingAndGlyphs">335</text>
<text class="dl" x="503.2" y="374.6" fill="#d22d3c" stroke="#d22d3c" textLength="30.5" lengthAdjust="spacingAndGlyphs">244</text>
<text class="dl" x="548" y="315" fill="#d22d3c" stroke="#d22d3c" textLength="30.5" lengthAdjust="spacingAndGlyphs">306</text>
<text class="dl" x="592.8" y="304.5" fill="#d22d3c" stroke="#d22d3c" textLength="30.5" lengthAdjust="spacingAndGlyphs">317</text>
<text class="dl" x="637.6" y="285.2" fill="#d22d3c" stroke="#d22d3c" textLength="30.5" lengthAdjust="spacingAndGlyphs">337</text>
<text class="dl" x="682.4" y="288.1" fill="#d22d3c" stroke="#d22d3c" textLength="30.5" lengthAdjust="spacingAndGlyphs">334</text>
<text class="dl" x="727.2" y="283.3" fill="#d22d3c" stroke="#d22d3c" textLength="30.5" lengthAdjust="spacingAndGlyphs">339</text>
<text class="dl" x="772" y="277.6" fill="#d22d3c" stroke="#d22d3c" textLength="30.5" lengthAdjust="spacingAndGlyphs">345</text>
<text class="dl" x="816.8" y="264.1" fill="#d22d3c" stroke="#d22d3c" textLength="30.5" lengthAdjust="spacingAndGlyphs">359</text>
<text class="dl" x="861.6" y="242.9" fill="#d22d3c" stroke="#d22d3c" textLength="30.5" lengthAdjust="spacingAndGlyphs">381</text>
<text class="dl" x="906.4" y="240.1" fill="#d22d3c" stroke="#d22d3c" textLength="30.5" lengthAdjust="spacingAndGlyphs">384</text>
<text class="dl" x="951.2" y="242" fill="#d22d3c" stroke="#d22d3c" textLength="30.5" lengthAdjust="spacingAndGlyphs">382</text>
<text class="dl" x="996" y="223.7" fill="#d22d3c" stroke="#d22d3c" textLength="30.5" lengthAdjust="spacingAndGlyphs">401</text>
<text class="dl" x="1040.8" y="219.9" fill="#d22d3c" stroke="#d22d3c" textLength="30.5" lengthAdjust="spacingAndGlyphs">405</text>
<text class="dl" x="1085.6" y="225.6" fill="#d22d3c" stroke="#d22d3c" textLength="30.5" lengthAdjust="spacingAndGlyphs">399</text>
<text class="dl" x="1130.4" y="223.7" fill="#d22d3c" stroke="#d22d3c" textLength="30.5" lengthAdjust="spacingAndGlyphs">401</text>
<text class="dl" x="1172.4" y="196.8" fill="#d22d3c" stroke="#d22d3c" textLength="30.5" lengthAdjust="spacingAndGlyphs">429</text>
</svg></body></html>
